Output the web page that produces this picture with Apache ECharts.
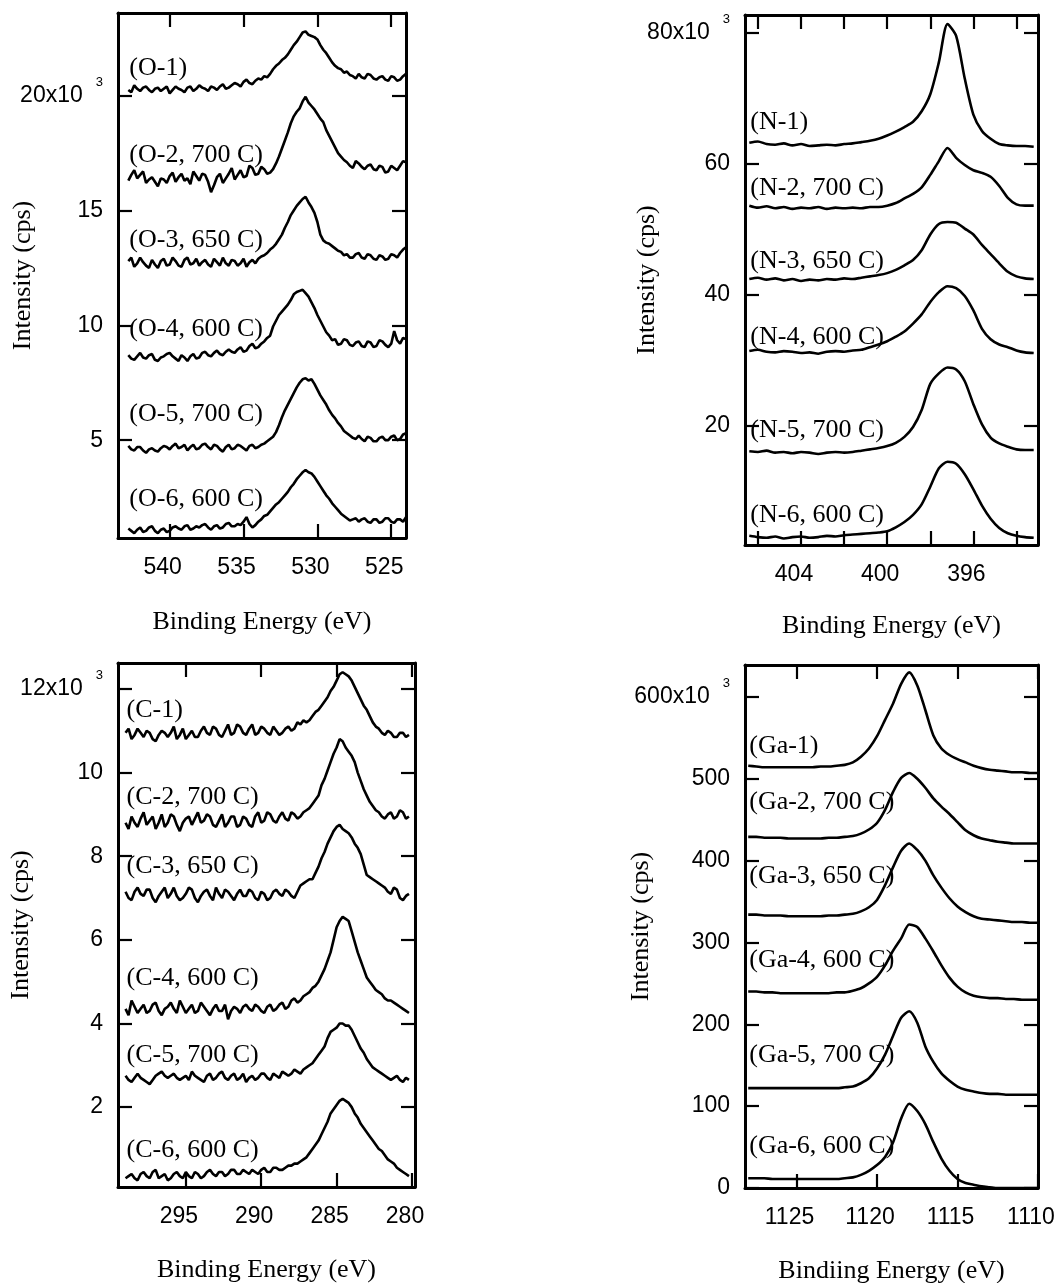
<!DOCTYPE html>
<html><head><meta charset="utf-8">
<script src="https://cdn.jsdelivr.net/npm/echarts@6/dist/echarts.min.js"></script>
<style>html,body{margin:0;padding:0;background:#fff}#c{width:1059px;height:1283px}</style>
</head><body><div id="c"></div>
<script>
// ---------------- DATA ----------------
// O 1s panel (intensity in 10^3 cps)
const energyO = [542.8,542.6,542.4,542.2,542.0,541.8,541.6,541.4,541.2,541.0,
540.8,540.6,540.4,540.2,540.0,539.8,539.6,539.4,539.2,539.0,
538.8,538.6,538.4,538.2,538.0,537.8,537.6,537.4,537.2,537.0,
536.8,536.6,536.4,536.2,536.0,535.8,535.6,535.4,535.2,535.0,
534.8,534.6,534.4,534.2,534.0,533.8,533.6,533.4,533.2,533.0,
532.8,532.6,532.4,532.2,532.0,531.8,531.6,531.4,531.2,531.0,
530.8,530.6,530.4,530.2,530.0,529.8,529.6,529.4,529.2,529.0,
528.8,528.6,528.4,528.2,528.0,527.8,527.6,527.4,527.2,527.0,
526.8,526.6,526.4,526.2,526.0,525.8,525.6,525.4,525.2,525.0,
524.8,524.6,524.4,524.2,524.0];
const o1 = [20.25,20.15,20.45,20.30,20.20,20.35,20.40,20.25,20.15,20.30,
20.35,20.20,20.30,20.40,20.10,20.25,20.40,20.30,20.25,20.15,
20.35,20.40,20.20,20.30,20.45,20.35,20.30,20.20,20.40,20.35,
20.25,20.40,20.50,20.30,20.35,20.45,20.55,20.50,20.40,20.60,
20.70,20.55,20.50,20.65,20.75,20.70,20.85,20.80,20.95,21.15,
21.30,21.40,21.55,21.65,21.80,22.00,22.20,22.35,22.55,22.75,
22.80,22.65,22.60,22.55,22.45,22.20,22.00,21.85,21.65,21.45,
21.30,21.20,21.15,21.00,21.05,20.90,20.85,20.75,20.95,20.80,
20.75,20.95,20.90,20.75,20.70,20.80,20.85,20.70,20.65,20.85,
20.80,20.65,20.70,20.85,20.95];
const o2 = [16.30,16.55,16.75,16.40,16.55,16.70,16.20,16.35,16.45,16.25,
16.05,16.40,16.35,16.20,16.50,16.65,16.25,16.45,16.60,16.30,
16.40,16.15,16.70,16.50,16.30,16.60,16.55,16.25,15.80,16.10,
16.45,16.60,16.20,16.40,16.60,16.85,16.35,16.55,16.75,16.45,
16.50,16.95,16.85,16.55,16.60,16.90,16.80,16.60,16.65,16.80,
17.05,17.35,17.70,18.05,18.40,18.80,19.10,19.30,19.45,19.75,
19.95,19.70,19.55,19.40,19.20,19.00,18.85,18.50,18.25,18.00,
17.75,17.50,17.35,17.20,17.10,16.95,16.85,17.15,17.05,16.90,
16.80,16.95,17.00,16.80,16.75,16.95,16.90,16.65,16.70,16.95,
16.85,16.75,16.95,17.15,17.10];
const o3 = [12.80,12.95,12.55,12.70,12.95,12.75,12.60,12.50,12.85,12.65,
12.50,12.80,12.90,12.60,12.65,12.95,12.80,12.60,12.55,12.85,
12.95,12.65,12.70,12.90,12.60,12.75,12.85,12.65,12.55,12.90,
12.75,12.60,12.95,12.70,12.60,12.85,12.80,12.60,12.70,12.90,
12.55,12.75,12.85,12.70,12.90,13.00,13.05,13.15,13.30,13.40,
13.55,13.75,13.95,14.25,14.50,14.80,15.00,15.20,15.35,15.50,
15.60,15.35,15.15,14.90,14.50,13.95,13.70,13.60,13.55,13.45,
13.35,13.25,13.20,13.05,13.10,12.95,12.95,13.10,13.15,12.95,
12.90,13.10,13.05,12.90,12.85,13.05,13.00,12.85,12.90,13.10,
13.05,12.95,13.15,13.30,13.40];
const o4 = [8.70,8.55,8.50,8.65,8.80,8.60,8.55,8.70,8.75,8.50,
8.45,8.60,8.65,8.75,8.80,8.65,8.55,8.45,8.70,8.60,
8.45,8.65,8.75,8.55,8.60,8.80,8.85,8.70,8.65,8.80,
8.90,8.75,8.70,8.85,8.95,8.85,8.80,8.95,9.05,8.85,
8.90,9.10,9.20,9.00,9.05,9.20,9.30,9.45,9.55,9.95,
10.20,10.45,10.60,10.75,10.90,11.10,11.35,11.45,11.50,11.55,
11.40,11.25,11.00,10.75,10.45,10.20,9.95,9.70,9.55,9.35,
9.40,9.15,9.20,9.40,9.35,9.15,9.10,9.25,9.30,9.10,
9.05,9.30,9.25,9.05,9.10,9.35,9.30,9.15,9.05,9.20,
9.75,9.35,9.20,9.45,9.40];
const o5 = [4.75,4.60,4.55,4.70,4.70,4.55,4.45,4.60,4.65,4.55,
4.50,4.65,4.75,4.70,4.60,4.75,4.85,4.65,4.70,4.80,
4.55,4.70,4.80,4.60,4.65,4.80,4.85,4.70,4.60,4.80,
4.75,4.60,4.50,4.70,4.80,4.60,4.65,4.80,4.75,4.65,
4.55,4.75,4.80,4.65,4.70,4.80,4.85,4.95,5.05,5.15,
5.35,5.65,6.00,6.30,6.55,6.80,7.05,7.30,7.50,7.65,
7.70,7.60,7.65,7.45,7.20,6.95,6.75,6.55,6.30,6.10,
5.95,5.75,5.60,5.40,5.30,5.20,5.10,5.05,5.20,5.05,
4.95,5.15,5.10,4.95,4.95,5.10,5.15,5.00,5.00,5.15,
5.20,5.00,5.05,5.25,5.30];
const o6 = [1.15,1.05,0.95,1.10,1.20,1.00,1.05,1.20,1.25,1.05,
0.95,1.10,1.15,1.00,1.05,1.20,1.25,1.15,1.10,1.25,
1.30,1.10,1.15,1.25,1.20,1.30,1.35,1.20,1.10,1.25,
1.30,1.15,1.20,1.35,1.40,1.25,1.25,1.35,1.30,1.45,
1.65,1.35,1.20,1.30,1.45,1.55,1.70,1.75,1.90,2.05,
2.20,2.30,2.45,2.60,2.75,2.95,3.10,3.30,3.45,3.60,
3.70,3.60,3.55,3.40,3.20,3.00,2.80,2.60,2.45,2.25,
2.10,1.95,1.80,1.70,1.60,1.50,1.55,1.60,1.45,1.55,
1.60,1.45,1.40,1.55,1.55,1.40,1.45,1.60,1.60,1.45,
1.40,1.55,1.55,1.45,1.65];
const labelsO = ['(O-1)','(O-2, 700 C)','(O-3, 650 C)','(O-4, 600 C)','(O-5, 700 C)','(O-6, 600 C)'];
const xTicksO = [540,535,530,525];
const xTickLabelsO = ['540','535','530','525'];
const yTicksO = [5,10,15,20];
const yTickLabelsO = ['5','10','15','20x10'];

// N 1s panel
const energyN = [406.4,406.0,405.6,405.2,404.8,404.4,404.0,403.6,403.2,402.8,402.4,402.0,401.6,401.2,400.8,400.4,400.0,399.6,399.2,398.8,398.4,398.0,397.6,397.2,396.8,396.4,396.0,395.6,395.2,394.8,394.4,394.0,393.6,393.2];
const n1 = [63.2,63.4,63.0,62.9,63.1,62.8,63.0,62.7,62.8,62.9,62.8,63.0,63.1,63.3,63.5,63.8,64.3,64.9,65.6,66.4,68.0,70.6,75.5,81.3,79.5,73.0,67.5,65.0,63.8,63.0,62.8,62.7,62.7,62.6];
const n2 = [53.6,53.3,53.5,53.2,53.4,53.1,53.3,53.2,53.4,53.1,53.3,53.2,53.3,53.2,53.4,53.4,53.6,54.0,54.7,55.4,56.4,58.3,60.4,62.4,60.9,59.8,59.0,58.6,58.0,56.6,54.8,53.8,53.6,53.6];
const n3 = [42.4,42.6,42.3,42.5,42.2,42.4,42.1,42.3,42.2,42.4,42.3,42.5,42.4,42.6,42.8,43.0,43.3,43.8,44.5,45.3,46.8,49.2,50.8,51.1,51.0,50.1,49.2,47.6,46.2,44.8,43.5,42.8,42.5,42.4];
const n4 = [31.4,31.6,31.3,31.2,31.4,31.3,31.1,31.2,31.0,31.3,31.4,31.3,31.5,31.6,32.0,32.4,32.9,33.6,34.4,35.6,37.0,38.9,40.4,41.3,41.0,39.8,37.6,34.8,33.2,32.4,32.0,31.5,31.2,31.1];
const n5 = [16.1,16.0,16.2,15.9,16.0,15.8,16.0,15.9,15.7,15.9,16.0,15.9,16.0,16.2,16.4,16.6,16.9,17.4,18.3,19.8,22.4,26.4,28.0,28.9,28.6,26.8,23.3,20.2,18.2,17.3,16.8,16.4,16.3,16.3];
const n6 = [3.2,3.0,2.9,3.1,2.8,3.0,3.1,2.9,3.0,3.2,3.1,3.3,3.4,3.5,3.6,3.7,3.9,4.5,5.3,6.4,8.0,10.7,13.5,14.5,14.2,12.6,10.3,7.8,5.8,4.4,3.6,3.2,3.0,2.9];
const labelsN = ['(N-1)','(N-2, 700 C)','(N-3, 650 C)','(N-4, 600 C)','(N-5, 700 C)','(N-6, 600 C)'];
const xTicksN = [406,404,402,400,398,396,394];
const xLabelValuesN = [404,400,396];
const xTickLabelsN = ['404','400','396'];
const yTicksN = [20,40,60,80];
const yTickLabelsN = ['20','40','60','80x10'];

// C 1s panel
const energyC = [299.0,298.8,298.6,298.4,298.2,298.0,297.8,297.6,297.4,297.2,
297.0,296.8,296.6,296.4,296.2,296.0,295.8,295.6,295.4,295.2,
295.0,294.8,294.6,294.4,294.2,294.0,293.8,293.6,293.4,293.2,
293.0,292.8,292.6,292.4,292.2,292.0,291.8,291.6,291.4,291.2,
291.0,290.8,290.6,290.4,290.2,290.0,289.8,289.6,289.4,289.2,
289.0,288.8,288.6,288.4,288.2,288.0,287.8,287.6,287.4,287.2,
287.0,286.8,286.6,286.4,286.2,286.0,285.8,285.6,285.4,285.2,
285.0,284.8,284.6,284.4,284.2,284.0,283.8,283.6,283.4,283.2,
283.0,282.8,282.6,282.4,282.2,282.0,281.8,281.6,281.4,281.2,
281.0,280.8,280.6,280.4,280.2];
const c1 = [10.95,11.05,10.80,10.90,11.05,10.95,10.85,11.00,10.95,10.80,
10.75,10.90,11.00,10.95,10.85,10.95,11.10,10.80,10.90,11.05,
10.80,10.90,11.00,10.85,10.85,11.00,11.10,10.95,10.90,11.10,
11.05,10.90,10.85,11.00,11.15,10.90,10.95,11.15,11.10,10.95,
10.90,11.05,11.15,10.90,10.95,11.10,11.05,10.95,10.90,11.10,
11.00,10.90,10.95,11.05,11.10,11.00,11.05,11.20,11.15,11.25,
11.20,11.25,11.35,11.45,11.50,11.60,11.70,11.80,11.95,12.05,
12.20,12.35,12.40,12.35,12.30,12.20,12.05,11.90,11.75,11.60,
11.50,11.35,11.20,11.10,11.05,10.95,10.90,11.00,10.95,10.85,
10.85,10.95,10.95,10.85,10.90];
const c2 = [8.80,8.65,8.95,8.80,8.70,8.90,9.05,8.75,8.85,8.95,
8.65,8.80,9.00,8.70,8.80,9.00,8.95,8.75,8.60,8.80,
8.90,8.95,8.75,8.90,9.05,8.80,8.85,9.00,8.95,8.75,
8.70,8.85,9.00,8.70,8.80,8.95,8.95,8.70,8.75,8.95,
8.90,8.75,8.70,8.95,9.05,8.80,8.85,9.05,9.00,8.85,
8.80,8.95,9.05,8.90,8.85,9.05,9.00,8.90,8.95,9.05,
9.10,9.15,9.25,9.35,9.45,9.70,9.85,10.05,10.25,10.45,
10.60,10.80,10.75,10.60,10.50,10.40,10.25,10.00,9.80,9.60,
9.45,9.30,9.20,9.10,9.05,8.95,8.90,9.00,9.05,8.90,
8.95,9.10,9.05,8.90,8.95];
const c3 = [7.15,7.00,6.95,7.15,7.25,7.10,7.05,7.20,7.20,7.00,
6.90,7.05,7.15,7.25,7.00,7.10,7.25,7.05,6.95,7.00,
7.10,7.25,7.20,7.00,6.90,7.05,7.15,7.20,7.05,6.95,
7.25,7.10,7.00,7.20,7.15,7.05,6.95,7.10,7.20,7.05,
7.05,7.20,7.15,7.00,6.95,7.15,7.10,6.95,7.00,7.15,
7.20,7.10,7.05,7.20,7.15,7.05,7.00,7.15,7.30,7.35,
7.40,7.45,7.45,7.60,7.75,7.95,8.10,8.30,8.45,8.60,
8.70,8.75,8.65,8.60,8.55,8.45,8.30,8.20,8.05,7.80,
7.55,7.50,7.45,7.40,7.35,7.30,7.25,7.15,7.10,7.25,
7.20,7.00,6.95,7.05,7.10];
const c4 = [4.35,4.20,4.55,4.40,4.25,4.35,4.45,4.25,4.30,4.45,
4.50,4.30,4.20,4.35,4.40,4.50,4.35,4.25,4.55,4.40,
4.25,4.35,4.45,4.25,4.30,4.50,4.40,4.30,4.20,4.35,
4.45,4.30,4.30,4.45,4.10,4.30,4.40,4.35,4.25,4.40,
4.45,4.35,4.30,4.45,4.40,4.30,4.25,4.40,4.45,4.30,
4.35,4.45,4.50,4.35,4.40,4.55,4.60,4.50,4.55,4.65,
4.70,4.75,4.85,4.90,5.00,5.15,5.30,5.50,5.70,6.00,
6.30,6.45,6.55,6.50,6.45,6.20,5.95,5.70,5.50,5.30,
5.10,5.00,4.90,4.80,4.75,4.70,4.60,4.55,4.55,4.50,
4.45,4.40,4.35,4.30,4.25];
const c5 = [2.75,2.65,2.60,2.70,2.80,2.70,2.65,2.60,2.55,2.65,
2.75,2.80,2.85,2.75,2.70,2.75,2.80,2.70,2.65,2.70,
2.75,2.65,2.85,2.75,2.70,2.65,2.60,2.75,2.80,2.65,
2.70,2.80,2.85,2.70,2.65,2.75,2.80,2.65,2.70,2.80,
2.60,2.70,2.75,2.65,2.70,2.80,2.80,2.70,2.65,2.80,
2.75,2.70,2.85,2.80,2.75,2.80,2.90,2.85,2.80,2.90,
2.95,3.00,3.05,3.15,3.25,3.35,3.45,3.65,3.80,3.85,
3.90,4.00,4.00,3.95,3.95,3.85,3.70,3.55,3.40,3.30,
3.15,3.05,2.95,2.90,2.85,2.80,2.75,2.70,2.65,2.70,
2.75,2.65,2.60,2.70,2.65];
const c6 = [0.30,0.35,0.40,0.30,0.25,0.40,0.45,0.35,0.30,0.45,
0.50,0.30,0.35,0.40,0.25,0.30,0.40,0.45,0.35,0.30,
0.45,0.35,0.30,0.45,0.40,0.30,0.35,0.45,0.50,0.40,
0.35,0.45,0.45,0.35,0.40,0.50,0.50,0.40,0.40,0.50,
0.45,0.40,0.50,0.45,0.40,0.50,0.55,0.45,0.45,0.55,
0.55,0.50,0.50,0.55,0.60,0.60,0.65,0.65,0.70,0.75,
0.80,0.90,1.00,1.10,1.20,1.35,1.50,1.65,1.85,1.95,
2.05,2.15,2.20,2.15,2.10,2.00,1.85,1.75,1.60,1.50,
1.40,1.30,1.20,1.10,1.00,0.95,0.85,0.75,0.70,0.65,
0.55,0.50,0.45,0.40,0.35];
const labelsC = ['(C-1)','(C-2, 700 C)','(C-3, 650 C)','(C-4, 600 C)','(C-5, 700 C)','(C-6, 600 C)'];
const xTicksC = [295,290,285,280];
const xTickLabelsC = ['295','290','285','280'];
const yTicksC = [2,4,6,8,10,12];
const yTickLabelsC = ['2','4','6','8','10','12x10'];

// Ga 2p panel
const energyGa = [1128.0,1127.5,1127.0,1126.5,1126.0,1125.5,1125.0,1124.5,1124.0,1123.5,1123.0,1122.5,1122.0,1121.5,1121.0,1120.5,1120.0,1119.5,1119.0,1118.5,1118.0,1117.5,1117.0,1116.5,1116.0,1115.5,1115.0,1114.5,1114.0,1113.5,1113.0,1112.5,1112.0,1111.5,1111.0,1110.5,1110.0];
const ga1 = [516,515,514,514,514,514,514,514,514,515,515,516,517,520,527,537,552,572,592,616,630,614,584,553,537,529,524,520,516,513,511,510,509,508,508,507,507];
const ga2 = [429,429,428,428,428,427,427,427,427,427,428,428,429,430,433,438,446,462,484,501,507,500,489,476,466,457,447,437,431,427,425,423,422,421,421,421,421];
const ga3 = [334,334,333,333,333,332,332,332,332,332,333,333,334,335,338,343,352,370,392,412,421,413,400,382,367,354,344,337,332,329,328,327,326,325,325,324,324];
const ga4 = [240,240,239,239,238,238,238,238,238,238,238,239,239,241,244,250,258,272,290,305,322,319,305,289,272,257,246,239,235,233,232,232,231,231,230,230,230];
const ga5 = [122,122,122,122,122,122,122,122,122,122,122,122,123,124,128,134,146,163,186,208,216,202,173,154,140,131,124,120,118,116,115,115,114,114,114,114,114];
const ga6 = [12,12,12,11,11,11,11,11,11,11,11,11,12,13,16,21,28,38,56,85,103,94,78,56,36,21,11,6,4,2,1,0,0,0,0,0,0];
const labelsGa = ['(Ga-1)','(Ga-2, 700 C)','(Ga-3, 650 C)','(Ga-4, 600 C)','(Ga-5, 700 C)','(Ga-6, 600 C)'];
const xTicksGa = [1125,1120,1115,1110];
const xTickLabelsGa = ['1125','1120','1115','1110'];
const yTicksGa = [0,100,200,300,400,500,600];
const yTickLabelsGa = ['0','100','200','300','400','500','600x10'];

const exponentText = '3';
const yTitle = 'Intensity (cps)';
const xTitle = 'Binding Energy (eV)';
const xTitleGa = 'Bindiing Energy (eV)';

// ---------------- LAYOUT / STYLE ----------------
const panels = [
  {grid:{left:118, top:13, width:288, height:525}, x:energyO, ys:[o1,o2,o3,o4,o5,o6], labels:labelsO,
   xMin:524, xMax:543.5, yMin:0.74, yMax:23.6, xTicks:xTicksO, xLabelValues:xTicksO, xLabelText:xTickLabelsO,
   yTicks:yTicksO, yLabelText:yTickLabelsO, xName:xTitle, xGap:71, yGap:82, gaps:[9,12,8,13,19,16], smooth:false},
  {grid:{left:745, top:15, width:293, height:530}, x:energyN, ys:[n1,n2,n3,n4,n5,n6], labels:labelsN,
   xMin:393.0, xMax:406.6, yMin:1.8, yMax:82.7, xTicks:xTicksN, xLabelValues:xLabelValuesN, xLabelText:xTickLabelsN,
   yTicks:yTicksN, yLabelText:yTickLabelsN, xName:xTitle, xGap:68, yGap:85, gaps:[8,4,5,1,8,8], smooth:0.25},
  {grid:{left:118, top:663, width:297, height:524}, x:energyC, ys:[c1,c2,c3,c4,c5,c6], labels:labelsC,
   xMin:279.8, xMax:299.5, yMin:0.09, yMax:12.62, xTicks:xTicksC, xLabelValues:xTicksC, xLabelText:xTickLabelsC,
   yTicks:yTicksC, yLabelText:yTickLabelsC, xName:xTitle, xGap:70, yGap:84, gaps:[10,13,13,18,8,15], smooth:false},
  {grid:{left:745, top:665, width:293, height:523}, x:energyGa, ys:[ga1,ga2,ga3,ga4,ga5,ga6], labels:labelsGa,
   xMin:1110, xMax:1128.2, yMin:0, yMax:639, xTicks:xTicksGa, xLabelValues:xTicksGa, xLabelText:xTickLabelsGa,
   yTicks:yTicksGa, yLabelText:yTickLabelsGa, xName:xTitleGa, xGap:70, yGap:91, gaps:[6,22,25,18,20,19], smooth:0.25}
];

const SANS = '"Liberation Sans", Arial, sans-serif';
const SERIF = '"Liberation Serif", "Times New Roman", serif';
const BLACK = '#000';

const grids = [], xAxes = [], yAxes = [], series = [];
panels.forEach((p, i) => {
  grids.push(Object.assign({containLabel:false, outerBoundsMode:'none'}, p.grid));
  ['bottom','top'].forEach(pos => {
    const main = pos === 'bottom';
    xAxes.push({
      type:'value', gridIndex:i, position:pos, min:p.xMin, max:p.xMax, inverse:true,
      axisLine:{show:true, onZero:false, lineStyle:{color:BLACK, width:3}},
      axisTick:{show:true, inside:true, length:14, lineStyle:{color:BLACK, width:2.2}, customValues:p.xTicks},
      axisLabel:{show:main, customValues:p.xLabelValues,
        formatter: v => p.xLabelText[p.xLabelValues.indexOf(v)],
        color:BLACK, fontFamily:SANS, fontSize:23, margin:18, padding:[0,14,0,0]},
      splitLine:{show:false},
      name: main ? p.xName : '', nameLocation:'middle', nameGap:p.xGap, nameMoveOverlap:false,
      nameTextStyle:{fontFamily:SERIF, fontSize:26, color:BLACK}
    });
  });
  ['left','right'].forEach(pos => {
    const main = pos === 'left';
    const top = p.yTicks[p.yTicks.length - 1];
    yAxes.push({
      type:'value', gridIndex:i, position:pos, min:p.yMin, max:p.yMax,
      axisLine:{show:true, onZero:false, lineStyle:{color:BLACK, width:3}},
      axisTick:{show:true, inside:true, length:14, lineStyle:{color:BLACK, width:2.2}, customValues:p.yTicks},
      axisLabel:{show:main, customValues:p.yTicks, margin:15,
        formatter: v => {
          const t = p.yLabelText[p.yTicks.indexOf(v)];
          return v === top ? '{b|' + t + '}{s|' + exponentText + '}' : '{b|' + t + '}';
        },
        rich:{
          b:{fontFamily:SANS, fontSize:23, color:BLACK, lineHeight:40},
          s:{fontFamily:SANS, fontSize:13, color:BLACK, verticalAlign:'top', padding:[0,0,0,13]}
        }},
      splitLine:{show:false},
      name: main ? yTitle : '', nameLocation:'middle', nameGap:p.yGap, nameMoveOverlap:false,
      nameTextStyle:{fontFamily:SERIF, fontSize:26, color:BLACK}
    });
  });
  p.ys.forEach((y, k) => {
    series.push({
      type:'line', xAxisIndex:2*i, yAxisIndex:2*i, name:p.labels[k],
      data:p.x.map((xv, j) => [xv, y[j]]),
      showSymbol:false, symbol:'none', clip:true, smooth:p.smooth,
      lineStyle:{color:BLACK, width:2.6}, emphasis:{disabled:true}
    });
  });
});

const chart = echarts.init(document.getElementById('c'), null, {renderer:'canvas'});
chart.setOption({
  animation:false, backgroundColor:'#fff',
  grid:grids, xAxis:xAxes, yAxis:yAxes, series:series
});

// curve labels anchored just above the start of each curve
const texts = [];
let sIdx = 0;
panels.forEach(p => {
  p.ys.forEach((y, k) => {
    const pt = chart.convertToPixel({seriesIndex:sIdx}, [p.x[0], y[0]]);
    texts.push({
      type:'text', x:pt[0] + 1, y:pt[1] - p.gaps[k], silent:true,
      style:{text:p.labels[k], font:'26px ' + SERIF, fill:BLACK,
        textAlign:'left', textVerticalAlign:'bottom', align:'left', verticalAlign:'bottom'}
    });
    sIdx++;
  });
});
chart.setOption({graphic:{elements:texts}});
</script>
</body></html>
